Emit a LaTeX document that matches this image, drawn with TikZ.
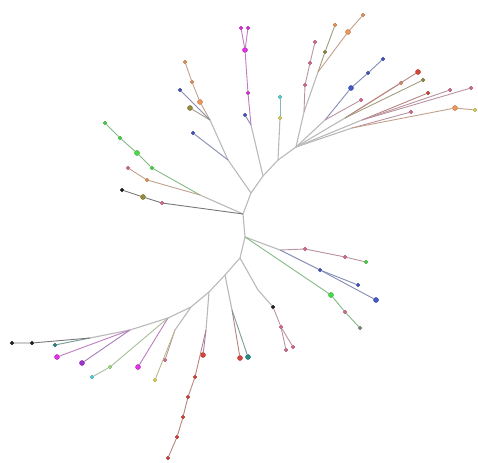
\documentclass[tikz,border=0pt]{standalone}
\usepackage{tikz}
\usetikzlibrary{positioning}
\definecolor{orangeT}{RGB}{240,150,90}
\definecolor{pinkT}{RGB}{220,110,150}
\definecolor{blueT}{RGB}{70,90,200}
\definecolor{redT}{RGB}{215,70,60}
\definecolor{magT}{RGB}{230,50,230}
\definecolor{cyanT}{RGB}{80,215,230}
\definecolor{yellowT}{RGB}{225,215,90}
\definecolor{greenT}{RGB}{70,220,70}
\definecolor{oliveT}{RGB}{150,140,60}
\definecolor{blackT}{RGB}{35,35,35}
\definecolor{tealT}{RGB}{40,140,130}
\definecolor{purpleT}{RGB}{160,50,210}
\definecolor{lgreenT}{RGB}{170,230,130}
\definecolor{greyT}{RGB}{140,140,140}
\tikzset{
    leaf/.style={circle, draw=#1!75!black, fill=#1, inner sep=0pt, minimum size=3.5pt},
    bigleaf/.style={leaf=#1, minimum size=5pt},
    twig/.style={draw=#1!45!gray!80, line width=0.9pt},
    stem/.style={draw=gray!55, line width=1.1pt}
}
\begin{document}
\begin{tikzpicture}[x=1pt, y=-1pt]
\useasboundingbox (0,0) rectangle (478,462);
\coordinate (r0) at (296,147);
\coordinate (r1) at (278,160);
\coordinate (r2) at (263,176);
\coordinate (r3) at (251,193);
\coordinate (r4) at (243,214);
\coordinate (r5) at (245,237);
\coordinate (r6) at (240,258);
\coordinate (r7) at (225,275);
\coordinate (r8) at (209,292);
\coordinate (r9) at (191,307);
\coordinate (r10) at (168,318);
\coordinate (r11) at (130,330);
\coordinate (r12) at (90,338);
\draw[stem] (r0) -- (r1) -- (r2) -- (r3) -- (r4) -- (r5) -- (r6) -- (r7) -- (r8) -- (r9) -- (r10) -- (r11) -- (r12);
\coordinate (a1) at (304,112);
\coordinate (a2) at (318,72);
\coordinate (b1) at (325,120);
\coordinate (c1) at (345,118);
\coordinate (d1) at (362,120);
\coordinate (e1) at (352,128);
\coordinate (m0) at (251,125);
\coordinate (u0) at (228,160);
\coordinate (u2) at (210,120);
\coordinate (l0) at (200,195);
\coordinate (g0) at (280,250);
\coordinate (g4) at (320,270);
\coordinate (h0) at (258,290);
\coordinate (k0) at (232,310);
\coordinate (n0) at (206,330);
\coordinate (q0) at (175,330);
\node[leaf=orangeT] (t1) at (363,15) {};
\node[leaf=orangeT] (t2) at (335,25) {};
\node[bigleaf=orangeT] (t3) at (348,32) {};
\node[leaf=oliveT] (t4) at (325,52) {};
\node[leaf=pinkT] (p1) at (305,85) {};
\node[leaf=pinkT] (p2) at (310,63) {};
\node[leaf=pinkT] (p3) at (315,42) {};
\node[bigleaf=blueT] (bl1) at (351,88) {};
\node[leaf=blueT] (bl2) at (368,73) {};
\node[leaf=blueT] (bl3) at (383,59) {};
\node[leaf=pinkT] (pk) at (361,100) {};
\node[leaf=orangeT] (c2) at (401,83) {};
\node[bigleaf=redT] (c3) at (418,72) {};
\node[leaf=oliveT] (c4) at (423,80) {};
\node[leaf=redT] (d2) at (428,93) {};
\node[leaf=pinkT] (d3) at (450,90) {};
\node[leaf=pinkT] (d4) at (471,88) {};
\node[leaf=pinkT] (e2) at (411,112) {};
\node[bigleaf=orangeT] (e3) at (455,108) {};
\node[leaf=yellowT] (e4) at (475,110) {};
\node[leaf=yellowT] (cy1) at (280,118) {};
\node[leaf=cyanT] (cy2) at (280,97) {};
\node[leaf=blueT] (m1) at (245,115) {};
\node[leaf=magT] (m2) at (248,93) {};
\node[bigleaf=magT] (m3) at (245,50) {};
\node[leaf=magT] (m4) at (241,28) {};
\node[leaf=magT] (m5) at (248,28) {};
\node[leaf=blueT] (u1) at (193,133) {};
\node[bigleaf=oliveT] (u3) at (190,108) {};
\node[bigleaf=orangeT] (u4) at (200,102) {};
\node[leaf=orangeT] (u5) at (192,82) {};
\node[leaf=orangeT] (u6) at (185,62) {};
\node[leaf=blueT] (u7) at (180,90) {};
\node[leaf=greenT] (l1) at (152,168) {};
\node[bigleaf=greenT] (l2) at (137,153) {};
\node[leaf=greenT] (l3) at (120,138) {};
\node[leaf=greenT] (l4) at (105,123) {};
\node[leaf=orangeT] (l5) at (147,180) {};
\node[leaf=pinkT] (l6) at (128,168) {};
\node[leaf=pinkT] (l7) at (162,203) {};
\node[bigleaf=oliveT] (l8) at (143,197) {};
\node[leaf=blackT] (l9) at (122,190) {};
\node[leaf=pinkT] (g1) at (305,249) {};
\node[leaf=pinkT] (g2) at (345,257) {};
\node[leaf=greenT] (g3) at (366,262) {};
\node[leaf=blueT] (g5) at (358,285) {};
\node[bigleaf=blueT] (g6) at (376,300) {};
\node[leaf=blueT] (g4d) at (320,270) {};
\node[bigleaf=greenT] (g7) at (331,295) {};
\node[leaf=pinkT] (g8) at (345,312) {};
\node[leaf=greyT] (g9) at (360,328) {};
\node[leaf=blackT] (h1) at (273,307) {};
\node[leaf=pinkT] (h2) at (281,327) {};
\node[leaf=pinkT] (h3) at (286,350) {};
\node[leaf=pinkT] (h4) at (293,347) {};
\node[bigleaf=redT] (k1) at (240,358) {};
\node[bigleaf=tealT] (k2) at (248,357) {};
\node[bigleaf=redT] (n1) at (203,355) {};
\node[leaf=redT] (n2) at (195,377) {};
\node[leaf=redT] (n3) at (188,397) {};
\node[leaf=redT] (n4) at (183,417) {};
\node[leaf=redT] (n5) at (177,437) {};
\node[leaf=redT] (n6) at (168,458) {};
\node[leaf=pinkT] (q1) at (165,360) {};
\node[leaf=yellowT] (q2) at (155,380) {};
\node[bigleaf=magT] (s1) at (138,367) {};
\node[leaf=lgreenT] (s2) at (110,367) {};
\node[leaf=cyanT] (s3) at (92,377) {};
\node[bigleaf=purpleT] (s4) at (82,363) {};
\node[bigleaf=magT] (s5) at (57,357) {};
\node[leaf=tealT] (s6) at (55,345) {};
\node[leaf=blackT] (s7) at (32,343) {};
\node[leaf=blackT] (s8) at (12,343) {};
\draw[stem] (r0) -- (a1) -- (a2);
\draw[stem] (r0) -- (b1);
\draw[stem] (r0) -- (c1);
\draw[stem] (r0) -- (d1);
\draw[stem] (r0) -- (e1);
\draw[twig=orangeT] (a2) -- (t3) -- (t1);
\draw[twig=oliveT] (a2) -- (t4) -- (t2);
\draw[twig=pinkT] (a1) -- (p1) -- (p2) -- (p3);
\draw[twig=blueT] (b1) -- (bl1) -- (bl2) -- (bl3);
\draw[twig=pinkT] (b1) -- (pk);
\draw[twig=orangeT] (c1) -- (c2);
\draw[twig=redT] (c1) -- (c3);
\draw[twig=oliveT] (c1) -- (c4);
\draw[twig=redT] (d1) -- (d2);
\draw[twig=pinkT] (d1) -- (d3);
\draw[twig=pinkT] (d1) -- (d4);
\draw[twig=pinkT] (e1) -- (e2);
\draw[twig=orangeT] (e1) -- (e3) -- (e4);
\draw[stem] (r1) -- (cy1);
\draw[twig=cyanT] (cy1) -- (cy2);
\draw[stem] (r2) -- (m0);
\draw[twig=blueT] (m0) -- (m1);
\draw[twig=magT] (m0) -- (m2) -- (m3) -- (m4);
\draw[twig=magT] (m3) -- (m5);
\draw[stem] (r3) -- (u0) -- (u2);
\draw[twig=blueT] (u0) -- (u1);
\draw[twig=oliveT] (u2) -- (u3);
\draw[twig=orangeT] (u2) -- (u4) -- (u5) -- (u6);
\draw[twig=blueT] (u2) -- (u7);
\draw[stem] (r4) -- (l0);
\draw[twig=greenT] (l0) -- (l1) -- (l2) -- (l3) -- (l4);
\draw[twig=orangeT] (l0) -- (l5) -- (l6);
\draw[twig=blackT] (r4) -- (l7) -- (l8) -- (l9);
\draw[stem] (r5) -- (g0);
\draw[twig=pinkT] (g0) -- (g1) -- (g2) -- (g3);
\draw[twig=blueT] (g0) -- (g4d) -- (g5);
\draw[twig=blueT] (g4d) -- (g6);
\draw[twig=greenT] (r5) -- (g7) -- (g8) -- (g9);
\draw[stem] (r6) -- (h0) -- (h1);
\draw[twig=pinkT] (h1) -- (h2) -- (h3);
\draw[twig=pinkT] (h2) -- (h4);
\draw[stem] (r7) -- (k0);
\draw[twig=redT] (k0) -- (k1);
\draw[twig=tealT] (k0) -- (k2);
\draw[stem] (r8) -- (n0);
\draw[twig=purpleT] (n0) -- (n1);
\draw[twig=redT] (n0) -- (n2) -- (n3) -- (n4) -- (n5) -- (n6);
\draw[stem] (r9) -- (q0);
\draw[twig=pinkT] (q0) -- (q1);
\draw[twig=yellowT] (q0) -- (q2);
\draw[twig=magT] (r10) -- (s1);
\draw[twig=lgreenT] (r10) -- (s2) -- (s3);
\draw[twig=purpleT] (r11) -- (s4);
\draw[twig=magT] (r11) -- (s5);
\draw[twig=tealT] (r12) -- (s6);
\draw[twig=blackT] (r12) -- (s7) -- (s8);
\end{tikzpicture}
\end{document}
